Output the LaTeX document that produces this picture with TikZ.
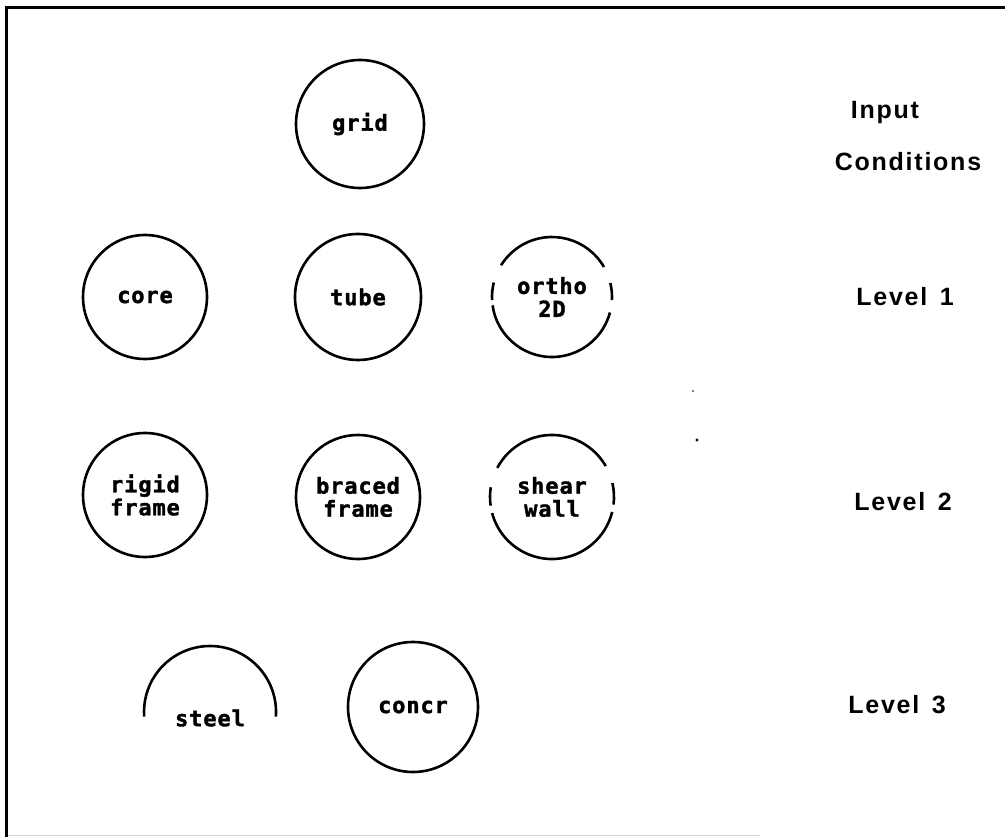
\documentclass[tikz,border=0pt]{standalone}
\usepackage{fontspec}
\setmainfont{Liberation Sans}
\newfontfamily\platefont[LetterSpace=4,FakeBold=1.6]{DejaVu Sans Mono}
\newfontfamily\labelfont[LetterSpace=7]{Liberation Sans}
\begin{document}
\begin{tikzpicture}[x=1pt,y=1pt,
  ring/.style={circle,draw,line width=2.6pt,inner sep=0pt},
  hollow/.style={circle,inner sep=0pt},
  plate/.style={font=\platefont\bfseries\fontsize{22}{23}\selectfont,align=center},
  level/.style={font=\labelfont\bfseries\fontsize{25}{28}\selectfont},
  arcline/.style={line width=2.6pt}]
\useasboundingbox (0,0) rectangle (1005,-837);
\fill[white] (0,0) rectangle (1005,-837);
% sheet border
\draw[line width=3pt] (6,-837) -- (6,-8) -- (1005,-8);
\draw[black!18,line width=1pt] (8,-835.5) -- (760,-835.5);

% input conditions
\node[ring,plate,minimum size=128pt] (grid) at (360,-124) {grid};

% level 1
\node[ring,plate,minimum size=124pt] (core) at (145,-297) {core};
\node[ring,plate,minimum size=126pt] (tube) at (358,-297) {tube};
\node[hollow,plate,minimum size=120pt] (ortho) at (552,-297) {ortho\\2D};
\draw[arcline] (ortho.center) ++(30:60) arc[start angle=30,end angle=148,radius=60];
\draw[arcline] (ortho.center) ++(166:60) arc[start angle=166,end angle=183,radius=60];
\draw[arcline] (ortho.center) ++(188:60) arc[start angle=188,end angle=345,radius=60];
\draw[arcline] (ortho.center) ++(-3:60) arc[start angle=-3,end angle=13.5,radius=60];

% level 2
\node[ring,plate,minimum size=124pt] (rigid) at (145,-495) {rigid\\frame};
\node[ring,plate,minimum size=124pt] (braced) at (358,-497) {braced\\frame};
\node[hollow,plate,minimum size=124pt] (shear) at (552,-497) {shear\\wall};
\draw[arcline] (shear.center) ++(30:62) arc[start angle=30,end angle=152,radius=62];
\draw[arcline] (shear.center) ++(171:62) arc[start angle=171,end angle=188,radius=62];
\draw[arcline] (shear.center) ++(195:62) arc[start angle=195,end angle=346,radius=62];
\draw[arcline] (shear.center) ++(-7:62) arc[start angle=-7,end angle=13,radius=62];

% level 3
\node[hollow,plate,minimum size=132pt] (steel) at (210,-712) {};
\node[plate,anchor=center] (steelt) at (210,-718) {steel};
\draw[arcline] (steel.center) ++(-4:66) arc[start angle=-4,end angle=184,radius=66];
\node[ring,plate,minimum size=130pt] (concr) at (413,-707) {concr};

% row captions
\node[level] (input) at (885,-112) {Input};
\node[level] (cond) at (908,-162) {Conditions};
\node[level] (lv1) at (905,-297) {Level\hspace{0.5em}1};
\node[level] (lv2) at (903,-502) {Level\hspace{0.5em}2};
\node[level] (lv3) at (897,-705) {Level\hspace{0.5em}3};

% stray specks on the sheet
\fill (697,-440) circle (1.6);
\fill (693,-391) circle (0.8);
\end{tikzpicture}
\end{document}
